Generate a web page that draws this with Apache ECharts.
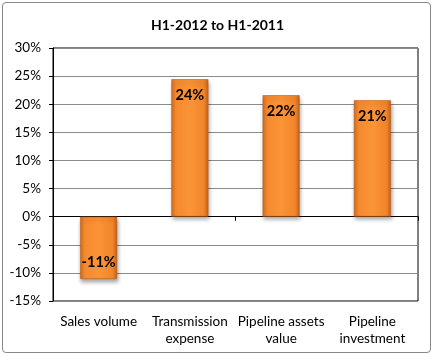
<!DOCTYPE html>
<html>
<head>
<meta charset="utf-8">
<script src="https://cdn.jsdelivr.net/npm/echarts@6/dist/echarts.min.js"></script>
<style>
html,body{margin:0;padding:0;background:#fff;}
#wrap{position:absolute;left:2px;top:2px;width:429px;height:351px;border:1px solid #888;border-radius:4px;box-sizing:border-box;}
#chart{position:absolute;left:0;top:0;width:435px;height:357px;}
</style>
</head>
<body>
<div id="wrap"></div>
<div id="chart"></div>
<script>
const categories = ['Sales volume', 'Transmission\nexpense', 'Pipeline assets\nvalue', 'Pipeline\ninvestment'];
const values = [-11.1, 24.45, 21.6, 20.7];
const yMin = -15, yMax = 30, yStep = 5;

const font = 'Lato, "Open Sans", "Liberation Sans", sans-serif';
const barColor = {
  type: 'linear', x: 0, y: 0, x2: 1, y2: 0,
  colorStops: [
    {offset: 0, color: '#D86E1E'},
    {offset: 0.12, color: '#F58A2E'},
    {offset: 0.5, color: '#FB9437'},
    {offset: 0.88, color: '#F1852B'},
    {offset: 1, color: '#C9621A'}
  ]
};

const chart = echarts.init(document.getElementById('chart'), null, {renderer: 'canvas'});
chart.setOption({
  animation: false,
  title: {
    text: 'H1-2012 to H1-2011', left: 'center', top: 13,
    textStyle: {fontFamily: font, fontSize: 14, fontWeight: 'bold', color: '#000'}
  },
  grid: {left: 53, right: 17, top: 48, bottom: 56, show: true, borderColor: '#000', borderWidth: 1},
  xAxis: [{
    type: 'category', data: categories, position: 'bottom',
    axisLine: {show: false, onZero: false}, axisTick: {show: false},
    axisLabel: {fontFamily: font, fontSize: 13.5, color: '#000', margin: 12, interval: 0, lineHeight: 17}
  }, {
    type: 'category', data: categories, position: 'bottom',
    axisLine: {show: true, onZero: true, lineStyle: {color: '#000', width: 1}},
    axisTick: {show: true, length: 4, inside: false, lineStyle: {color: '#000'}},
    axisLabel: {show: false}
  }],
  yAxis: {
    type: 'value', min: yMin, max: yMax, interval: yStep,
    axisLine: {show: true, lineStyle: {color: '#000'}},
    axisTick: {show: true, length: 4, lineStyle: {color: '#000'}},
    splitLine: {show: true, lineStyle: {color: '#8a8a8a', width: 1}},
    axisLabel: {fontFamily: font, fontSize: 13.5, color: '#000', margin: 12, formatter: v => v + '%'}
  },
  series: [{
    type: 'bar', xAxisIndex: 0,
    barWidth: 37,
    data: values.map(v => ({
      value: v,
      label: {position: v < 0 ? 'insideBottom' : 'insideTop'}
    })),
    itemStyle: {
      color: barColor, borderColor: '#B85A14', borderWidth: 0.6,
      shadowColor: 'rgba(0,0,0,0.35)', shadowBlur: 4, shadowOffsetX: 1, shadowOffsetY: 3
    },
    label: {
      show: true, distance: 9,
      fontFamily: font, fontSize: 14.5, fontWeight: 'bold', color: '#000',
      formatter: p => Math.round(p.value) + '%'
    }
  }]
});
</script>
</body>
</html>
